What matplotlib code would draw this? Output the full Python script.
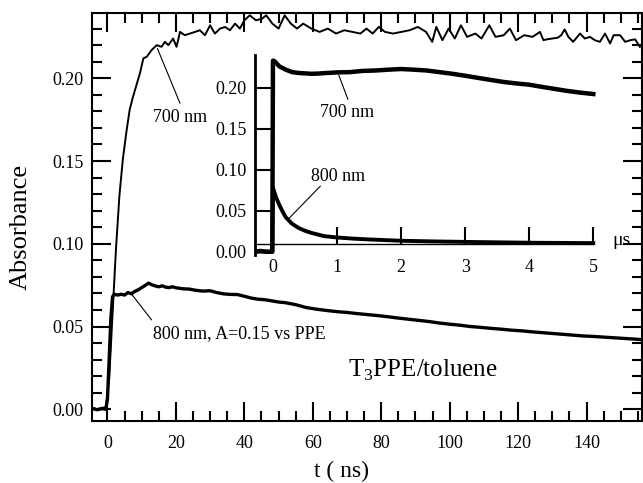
import matplotlib
matplotlib.use("Agg")
import matplotlib.pyplot as plt
from matplotlib.ticker import MultipleLocator, FormatStrFormatter

plt.rcParams['font.family'] = ['Liberation Serif', 'DejaVu Serif']
plt.rcParams['mathtext.fontset'] = 'custom'
plt.rcParams['mathtext.rm'] = 'Liberation Serif'

# ---------------- main panel data (t in ns) ----------------
t700 = [-4.5, -3.0, -1.5, -0.5, 0.5, 1.5, 2.5, 3.5, 4.5, 5.5, 6.5, 7.5, 8.5, 9.5,
        10.5, 11.5, 12.9, 14.4, 15.8, 16.8, 17.8, 19.2, 20.2, 21.2, 22.6, 24.1,
        25.6, 27.0, 28.5, 30.0, 31.4, 32.9, 34.4, 35.8, 37.3, 38.7, 40.0, 41.6,
        43.4, 45.2, 46.4, 48.2, 50.0, 51.8, 53.6, 55.4, 57.2, 59.6, 62.0, 64.4,
        66.8, 69.2, 71.6, 73.9, 75.7, 77.5, 79.3, 81.1, 83.5, 85.9, 88.3, 90.7,
        93.1, 94.9, 96.1, 97.9, 99.7, 101.5, 103.3, 105.1, 107.5, 109.3, 111.6,
        113.4, 115.8, 117.6, 119.4, 121.8, 124.2, 126.4, 127.4, 128.4, 130.0,
        131.6, 132.6, 133.6, 134.7, 136.1, 138.1, 139.5, 141.0, 142.4, 143.9,
        145.4, 146.9, 147.9, 149.8, 151.3, 152.8, 154.2, 155.6]
a700 = [0.001, 0.000, 0.001, 0.001, 0.018, 0.058, 0.097, 0.129, 0.151, 0.167,
        0.181, 0.189, 0.196, 0.203, 0.212, 0.213, 0.217, 0.220, 0.219, 0.222,
        0.220, 0.224, 0.219, 0.228, 0.226, 0.227, 0.228, 0.229, 0.226, 0.232,
        0.227, 0.230, 0.231, 0.229, 0.233, 0.230, 0.235, 0.238, 0.235, 0.236,
        0.238, 0.233, 0.230, 0.238, 0.233, 0.230, 0.233, 0.230, 0.228, 0.230,
        0.227, 0.229, 0.228, 0.227, 0.230, 0.227, 0.231, 0.228, 0.227, 0.228,
        0.229, 0.231, 0.228, 0.222, 0.231, 0.223, 0.230, 0.224, 0.232, 0.225,
        0.227, 0.224, 0.232, 0.225, 0.226, 0.230, 0.223, 0.226, 0.225, 0.228,
        0.223, 0.2235, 0.224, 0.2245, 0.226, 0.2295, 0.225, 0.222, 0.227, 0.224,
        0.225, 0.223, 0.222, 0.227, 0.221, 0.226, 0.226, 0.222, 0.223, 0.2235,
        0.219]

t800 = [-4.5, -3.0, -1.5, -0.5, 0.0, 0.5, 1.0, 1.5, 2, 3, 4, 5, 6, 7, 8, 9, 10,
        11, 12, 13, 14, 15, 16, 17, 18, 19, 20, 22, 24, 26, 28, 30, 32, 34, 36,
        38, 40, 42, 44, 46, 48, 50, 52, 55, 58, 61, 64, 67, 70, 73, 76, 79, 82,
        85, 88, 91, 94, 97, 100, 103, 106, 109, 112, 115, 118, 121, 124, 127,
        130, 133, 136, 139, 142, 145, 148, 151, 154, 156]
a800 = [0.0005, -0.0003, 0.0004, 0.0, 0.006, 0.030, 0.055, 0.068, 0.0695, 0.069,
        0.0695, 0.0690, 0.0705, 0.0698, 0.0712, 0.0722, 0.0735, 0.0748, 0.0762,
        0.0752, 0.0745, 0.0740, 0.0746, 0.0738, 0.0735, 0.0740, 0.0734, 0.0728,
        0.0726, 0.0718, 0.0714, 0.0716, 0.0705, 0.0697, 0.0694, 0.0693, 0.0683,
        0.0672, 0.0665, 0.0662, 0.0655, 0.0648, 0.0644, 0.0632, 0.0615, 0.0605,
        0.0597, 0.0590, 0.0585, 0.0578, 0.0572, 0.0566, 0.0559, 0.0551, 0.0544,
        0.0537, 0.0530, 0.0521, 0.0514, 0.0508, 0.0500, 0.0495, 0.0489, 0.0484,
        0.0478, 0.0474, 0.0468, 0.0463, 0.0458, 0.0453, 0.0448, 0.0443, 0.0440,
        0.0436, 0.0432, 0.0428, 0.0424, 0.0421]

# ---------------- inset data (t in microseconds) ----------------
ti700 = [-0.28, -0.2, -0.1, -0.01, 0.0, 0.03, 0.1, 0.2, 0.3, 0.4, 0.5, 0.6, 0.7,
         0.8, 0.9, 1.0, 1.2, 1.4, 1.6, 1.8, 2.0, 2.2, 2.4, 2.6, 2.8, 3.0, 3.2,
         3.4, 3.6, 3.8, 4.0, 4.2, 4.4, 4.6, 4.8, 5.0]
ai700 = [0.0, 0.001, 0.0, 0.0, 0.233, 0.232, 0.226, 0.222, 0.219, 0.218, 0.2175,
         0.217, 0.2172, 0.2178, 0.2182, 0.2187, 0.219, 0.2205, 0.221, 0.222,
         0.2228, 0.222, 0.221, 0.219, 0.217, 0.2146, 0.212, 0.2095, 0.207,
         0.2052, 0.2037, 0.201, 0.1985, 0.196, 0.194, 0.1923]

ti800 = [-0.28, -0.2, -0.1, -0.01, 0.0, 0.05, 0.1, 0.15, 0.2, 0.3, 0.4, 0.5,
         0.6, 0.7, 0.8, 1.0, 1.25, 1.5, 2.0, 2.5, 3.0, 4.0, 5.0]
ai800 = [0.0, 0.0005, 0.0, 0.0, 0.078, 0.066, 0.057, 0.049, 0.042, 0.034,
         0.029, 0.0256, 0.023, 0.021, 0.019, 0.0174, 0.016, 0.015, 0.0134,
         0.0126, 0.012, 0.011, 0.0105]

fig = plt.figure(figsize=(6.43, 4.83), dpi=100)
ax = fig.add_axes([0.1426, 0.129, 0.8558, 0.8447])

ax.plot(t700, a700, color='black', lw=1.4)
ax.plot(t800, a800, color='black', lw=2.4)

ax.set_xlim(-4.6, 156.2)
ax.set_ylim(-0.0069, 0.2396)
ax.xaxis.set_major_locator(MultipleLocator(20))
ax.xaxis.set_minor_locator(MultipleLocator(5))
ax.yaxis.set_major_locator(MultipleLocator(0.05))
ax.yaxis.set_minor_locator(MultipleLocator(0.01))
ax.yaxis.set_major_formatter(FormatStrFormatter('%.2f'))
ax.tick_params(which='both', direction='in', top=True, right=True, width=1.5,
               labelsize=13)
ax.tick_params(which='major', length=14)
ax.tick_params(which='minor', length=7)
ax.tick_params(axis='x', pad=10)
ax.tick_params(axis='y', pad=6)
for s in ax.spines.values():
    s.set_linewidth(1.5)

ax.set_xlabel('t ( ns)', fontsize=17)
ax.set_ylabel('Absorbance', fontsize=19)
ax.xaxis.label.set_va('center')
ax.yaxis.label.set_va('center')
ax.xaxis.set_label_coords(0.454, -0.124)
ax.yaxis.set_label_coords(-0.1285, 0.476)

ax.text(13.2, 0.1734, '700 nm', fontsize=13, va='baseline')
ax.annotate('', xy=(14.6, 0.218), xytext=(21.2, 0.1849),
            arrowprops=dict(arrowstyle='-', lw=0.8, shrinkA=0, shrinkB=0))
ax.text(13.2, 0.0431, '800 nm, A=0.15 vs PPE', fontsize=13, va='baseline')
ax.annotate('', xy=(6.9, 0.070), xytext=(12.9, 0.054),
            arrowprops=dict(arrowstyle='-', lw=0.8, shrinkA=0, shrinkB=0))
ax.text(70.3, 0.0197, r'T$_\mathrm{3}$PPE/toluene', fontsize=18, va='baseline')

# ---------------- inset ----------------
ai = fig.add_axes([0.3966, 0.4720, 0.5311, 0.4143])
ai.patch.set_visible(False)
ai.plot(ti700, ai700, color='black', lw=3.2)
ai.plot(ti800, ai800, color='black', lw=2.8)
ai.set_xlim(-0.28, 5.05)
ai.set_ylim(-0.004, 0.24)
ai.spines['top'].set_visible(False)
ai.spines['right'].set_visible(False)
ai.spines['bottom'].set_position(('data', 0.009))
ai.spines['bottom'].set_bounds(-0.28, 5.0)
ai.spines['bottom'].set_linewidth(1.0)
ai.spines['left'].set_linewidth(2.0)
ai.xaxis.set_major_locator(MultipleLocator(1))
ai.yaxis.set_major_locator(MultipleLocator(0.05))
ai.yaxis.set_major_formatter(FormatStrFormatter('%.2f'))
ai.tick_params(which='major', direction='in', length=12, width=1.5, labelsize=13)
ai.tick_params(axis='x', pad=10.5)
ai.tick_params(axis='y', pad=6.3)
ai.text(5.3, 0.0143, 'μs', fontsize=14, va='center', ha='left')
ai.text(0.73, 0.1646, '700 nm', fontsize=13, va='baseline')
ai.annotate('', xy=(1.027, 0.2155), xytext=(1.17, 0.1858),
            arrowprops=dict(arrowstyle='-', lw=0.8, shrinkA=0, shrinkB=0))
ai.text(0.60, 0.0866, '800 nm', fontsize=13, va='baseline')
ai.annotate('', xy=(0.25, 0.0407), xytext=(0.74, 0.080),
            arrowprops=dict(arrowstyle='-', lw=0.8, shrinkA=0, shrinkB=0))

fig.savefig('out.png', dpi=100)
